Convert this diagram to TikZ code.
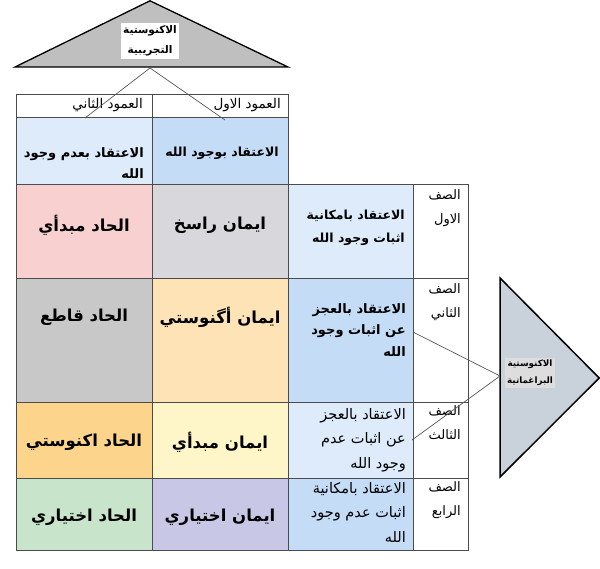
\documentclass[tikz,border=0pt]{standalone}
\usepackage{fontspec}
\newfontfamily\arfont[Script=Arabic]{DejaVu Sans}
\TeXXeTstate=1
\newcommand{\artxt}[1]{\beginR #1\endR}
\definecolor{tgray}{HTML}{BFBFBF}
\definecolor{rtri}{HTML}{C9D1DB}
\definecolor{rlabfill}{HTML}{DDDDDD}
\definecolor{lblue}{HTML}{DDEBFA}
\definecolor{mblue}{HTML}{C4DCF6}
\definecolor{pinkc}{HTML}{F8D0D0}
\definecolor{lgrayc}{HTML}{D8D8DC}
\definecolor{grayc}{HTML}{C8C8C8}
\definecolor{lorange}{HTML}{FDE3B5}
\definecolor{orangec}{HTML}{FCD48C}
\definecolor{lyellow}{HTML}{FEF6C8}
\definecolor{greenc}{HTML}{C8E4CA}
\definecolor{lavc}{HTML}{C8C8E6}
\begin{document}
\begin{tikzpicture}[x=1pt,y=-1pt,
  cell/.style={draw=black!70, line width=0.8pt, anchor=north west, inner sep=0pt, outer sep=0pt},
  bigtxt/.style={font=\arfont\bfseries\fontsize{16.5}{19}\selectfont, inner sep=0pt},
  midtxt/.style={font=\arfont\bfseries\fontsize{12.5}{23}\selectfont, align=right, anchor=east, inner sep=0pt},
  regtxt/.style={font=\arfont\fontsize{14.5}{24.5}\selectfont, align=right, anchor=east, inner sep=0pt},
  hdrtxt/.style={font=\arfont\fontsize{13.5}{14}\selectfont, anchor=east, inner sep=0pt},
  rowtxt/.style={font=\arfont\fontsize{13}{24}\selectfont, align=right, anchor=north east, inner sep=0pt},
  labtxt/.style={font=\arfont\bfseries\fontsize{10.5}{20}\selectfont, align=center},
  link/.style={draw=black!65, line width=0.7pt}]
\useasboundingbox[fill=white] (0,0) rectangle (600,568);

% top triangle
\draw[fill=tgray, line width=1.3pt, line join=miter] (150,0.8) -- (288,67) -- (15,67) -- cycle;
\node[labtxt, fill=white, inner sep=2.5pt] (tlab) at (150,41) {\artxt{الاكنوستية}\\\artxt{التجريبية}};
\coordinate (tbase) at (150,68);

% right triangle
\draw[fill=rtri, line width=1.5pt, line join=miter] (500,278) -- (599.2,378) -- (500,477) -- cycle;
\node[labtxt, fill=rlabfill, inner sep=2pt, font=\arfont\bfseries\fontsize{8.8}{17}\selectfont] (rlab) at (530,373) {\artxt{الاكنوستية}\\\artxt{البراغماتية}};
\coordinate (rtip) at (500,376);

% header row
\node[cell, minimum width=136pt, minimum height=23pt] (h2) at (16,94) {};
\node[cell, minimum width=136pt, minimum height=23pt] (h1) at (152,94) {};
\node[hdrtxt] (h2t) at (143,105.5) {\artxt{العمود الثاني}};
\node[hdrtxt] (h1t) at (281,105.5) {\artxt{العمود الاول}};

% belief row
\node[cell, fill=lblue, minimum width=136pt, minimum height=67pt] (b2) at (16,117) {};
\node[cell, fill=mblue, minimum width=136pt, minimum height=67pt] (b1) at (152,117) {};
\node[midtxt, font=\arfont\bfseries\fontsize{13}{21}\selectfont] (b2t) at (144,163) {\artxt{الاعتقاد بعدم وجود}\\\artxt{الله}};
\node[midtxt, anchor=center, font=\arfont\bfseries\fontsize{12.5}{21}\selectfont] (b1t) at (222,153) {\artxt{الاعتقاد بوجود الله}};

% row 1
\node[cell, fill=pinkc, minimum width=136pt, minimum height=94pt] (r1a) at (16,184) {};
\node[cell, fill=lgrayc, minimum width=136pt, minimum height=94pt] (r1b) at (152,184) {};
\node[cell, fill=lblue, minimum width=125pt, minimum height=94pt] (r1c) at (288,184) {};
\node[cell, fill=white, minimum width=55pt, minimum height=94pt] (r1d) at (413,184) {};
\node[bigtxt] (r1at) at (84,225) {\artxt{الحاد مبدأي}};
\node[bigtxt] (r1bt) at (220,225) {\artxt{ايمان راسخ}};
\node[midtxt] (r1ct) at (405,228) {\artxt{الاعتقاد بامكانية}\\\artxt{اثبات وجود الله}};
\node[rowtxt] (r1dt) at (461,189) {\artxt{الصف}\\\artxt{الاول}};

% row 2
\node[cell, fill=grayc, minimum width=136pt, minimum height=124pt] (r2a) at (16,278) {};
\node[cell, fill=lorange, minimum width=136pt, minimum height=124pt] (r2b) at (152,278) {};
\node[cell, fill=mblue, minimum width=125pt, minimum height=124pt] (r2c) at (288,278) {};
\node[cell, fill=white, minimum width=55pt, minimum height=124pt] (r2d) at (413,278) {};
\node[bigtxt] (r2at) at (84,317) {\artxt{الحاد قاطع}};
\node[bigtxt] (r2bt) at (220,317) {\artxt{ايمان أگنوستي}};
\node[midtxt, font=\arfont\bfseries\fontsize{13}{21.5}\selectfont] (r2ct) at (406,330) {\artxt{الاعتقاد بالعجز}\\\artxt{عن اثبات وجود}\\\artxt{الله}};
\node[rowtxt] (r2dt) at (461,283) {\artxt{الصف}\\\artxt{الثاني}};

% row 3
\node[cell, fill=orangec, minimum width=136pt, minimum height=76pt] (r3a) at (16,402) {};
\node[cell, fill=lyellow, minimum width=136pt, minimum height=76pt] (r3b) at (152,402) {};
\node[cell, fill=lblue, minimum width=125pt, minimum height=76pt] (r3c) at (288,402) {};
\node[cell, fill=white, minimum width=55pt, minimum height=76pt] (r3d) at (413,402) {};
\node[bigtxt] (r3at) at (84,442) {\artxt{الحاد اكنوستي}};
\node[bigtxt] (r3bt) at (220,442) {\artxt{ايمان مبدأي}};
\node[regtxt] (r3ct) at (406,440) {\artxt{الاعتقاد بالعجز}\\\artxt{عن اثبات عدم}\\\artxt{وجود الله}};
\node[rowtxt] (r3dt) at (461,405) {\artxt{الصف}\\\artxt{الثالث}};

% row 4
\node[cell, fill=greenc, minimum width=136pt, minimum height=72pt] (r4a) at (16,478) {};
\node[cell, fill=lavc, minimum width=136pt, minimum height=72pt] (r4b) at (152,478) {};
\node[cell, fill=mblue, minimum width=125pt, minimum height=72pt] (r4c) at (288,478) {};
\node[cell, fill=white, minimum width=55pt, minimum height=72pt] (r4d) at (413,478) {};
\node[bigtxt] (r4at) at (84,517) {\artxt{الحاد اختياري}};
\node[bigtxt] (r4bt) at (220,517) {\artxt{ايمان اختياري}};
\node[regtxt] (r4ct) at (406,512) {\artxt{الاعتقاد بامكانية}\\\artxt{اثبات عدم وجود}\\\artxt{الله}};
\node[rowtxt] (r4dt) at (461,481) {\artxt{الصف}\\\artxt{الرابع}};

% connectors
\coordinate (e2) at (85,118);
\coordinate (e1) at (225,120);
\coordinate (e3) at (413,332);
\coordinate (e4) at (412,440);
\draw[link] (tbase) -- (e2);
\draw[link] (tbase) -- (e1);
\draw[link] (rtip) -- (e3);
\draw[link] (rtip) -- (e4);
\end{tikzpicture}
\end{document}
